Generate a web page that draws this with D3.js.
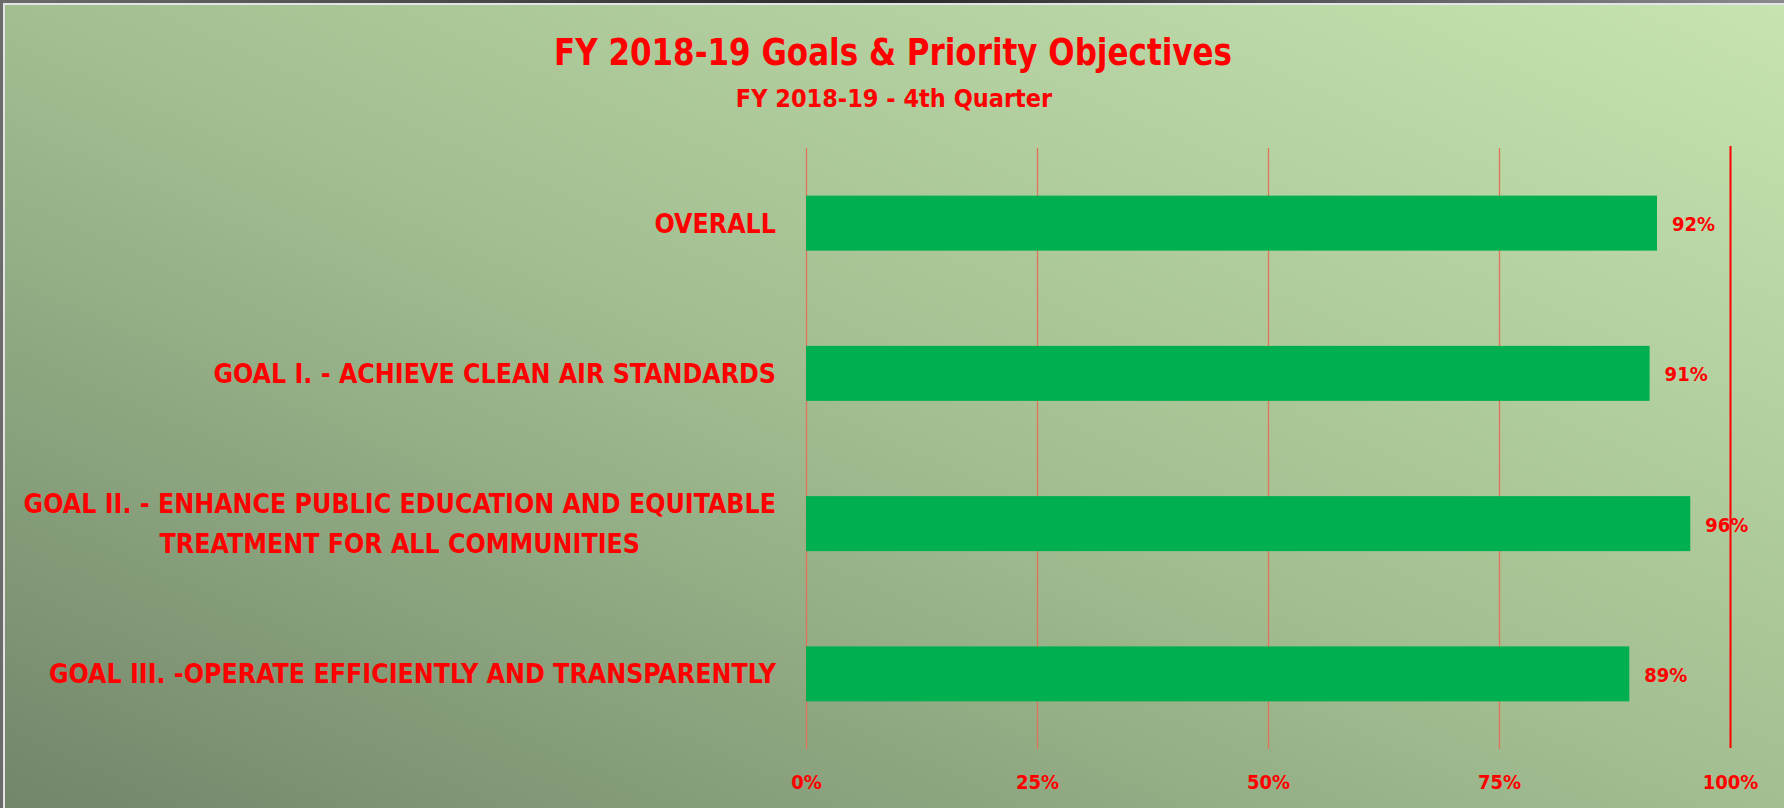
<!DOCTYPE html>
<html>
<head>
<meta charset="utf-8">
<script src="https://cdn.jsdelivr.net/npm/d3@7"></script>
<style>
  body { margin: 0; background: #555; }
  svg { display: block; }
  text { font-family: "Liberation Sans Narrow", "Arial Narrow", "DejaVu Sans Condensed", sans-serif; font-weight: bold; fill: #ff0000; }
</style>
</head>
<body>
<svg></svg>
<script>
// data
const categories = ["OVERALL", "GOAL I", "GOAL II", "GOAL III"];
const labelLines = [
    ["OVERALL"],
    ["GOAL I. - ACHIEVE CLEAN AIR STANDARDS"],
    ["GOAL II. - ENHANCE PUBLIC EDUCATION AND EQUITABLE", "TREATMENT FOR ALL COMMUNITIES"],
    ["GOAL III. -OPERATE EFFICIENTLY AND TRANSPARENTLY"]
];
const values = [0.921, 0.913, 0.957, 0.891];
const tickValues = [0, 0.25, 0.5, 0.75, 1];
const title = "FY 2018-19 Goals & Priority Objectives";
const subtitle = "FY 2018-19 - 4th Quarter";

const width = 1784, height = 808;
const margin = { top: 148, right: 54, bottom: 59, left: 806 };

const svg = d3.select("svg").attr("width", width).attr("height", height);

// bakgrund med gradient
const defs = svg.append("defs");
const grad = defs.append("linearGradient").attr("id", "bg")
    .attr("x1", 0).attr("y1", 1).attr("x2", 1).attr("y2", 0);
grad.append("stop").attr("offset", "0%").attr("stop-color", "#72866a");
grad.append("stop").attr("offset", "50%").attr("stop-color", "#a3bf91");
grad.append("stop").attr("offset", "100%").attr("stop-color", "#c6e3b1");

const frame = defs.append("linearGradient").attr("id", "frame")
    .attr("x1", 0).attr("y1", 0).attr("x2", 1).attr("y2", 0);
frame.append("stop").attr("offset", "0%").attr("stop-color", "#6b6b6b");
frame.append("stop").attr("offset", "50%").attr("stop-color", "#2b2b2b");
frame.append("stop").attr("offset", "100%").attr("stop-color", "#8a8a8a");

svg.append("rect").attr("width", width).attr("height", height).attr("fill", "url(#frame)");
svg.append("rect").attr("x", 3).attr("y", 3).attr("width", width - 3).attr("height", height - 3).attr("fill", "#e4e4e4");
svg.append("rect").attr("x", 5).attr("y", 5).attr("width", width - 5).attr("height", height - 5).attr("fill", "url(#bg)");

// skalor
const x = d3.scaleLinear().domain([0, 1]).range([margin.left, width - margin.right]);
const y = d3.scaleBand().domain(categories)
    .range([margin.top, height - margin.bottom])
    .paddingInner(0.634).paddingOuter(0.317);

// rutnät
svg.append("g").selectAll("line")
    .data(tickValues)
    .join("line")
    .attr("x1", d => Math.round(x(d)) + 0.5)
    .attr("x2", d => Math.round(x(d)) + 0.5)
    .attr("y1", d => d === 1 ? margin.top - 2 : margin.top)
    .attr("y2", d => d === 1 ? height - margin.bottom - 1 : height - margin.bottom)
    .attr("stroke", d => d === 1 ? "#ff0000" : "#e0735a")
    .attr("stroke-width", d => d === 1 ? 2 : 1.3);

// x-axel etiketter
const xAxis = svg.append("g")
    .attr("transform", `translate(0,${height - margin.bottom + 40})`)
    .call(d3.axisBottom(x).tickValues(tickValues).tickFormat(d3.format(".0%")).tickSize(0).tickPadding(0));
xAxis.select(".domain").remove();
xAxis.attr("font-family", null).attr("font-size", null);
xAxis.selectAll("text")
    .attr("font-size", 20)
    .attr("dy", 0);

// staplar
svg.append("g").selectAll("rect")
    .data(values)
    .join("rect")
    .attr("x", x(0))
    .attr("y", (d, i) => y(categories[i]))
    .attr("width", d => x(d) - x(0))
    .attr("height", y.bandwidth())
    .attr("fill", "#00b050");

// värdeetiketter
svg.append("g").selectAll("text")
    .data(values)
    .join("text")
    .attr("x", d => x(d) + 15)
    .attr("y", (d, i) => y(categories[i]) + y.bandwidth() / 2 + 8)
    .attr("font-size", 20)
    .text(d => d3.format(".0%")(d));

// kategorietiketter
const labelRight = margin.left - 30;
const lineGap = 40;
categories.forEach((c, i) => {
    const lines = labelLines[i];
    const g = svg.append("g");
    const texts = g.selectAll("text")
        .data(lines)
        .join("text")
        .attr("font-size", 26.5)
        .attr("text-anchor", "middle")
        .text(d => d);
    let maxW = 0;
    texts.each(function () { maxW = Math.max(maxW, this.getComputedTextLength()); });
    const cy = y(c) + y.bandwidth() / 2;
    const firstBaseline = cy + 9.5 - (lines.length - 1) * lineGap / 2;
    texts.attr("x", labelRight - maxW / 2)
        .attr("y", (d, j) => firstBaseline + j * lineGap);
});

// titlar
svg.append("text")
    .attr("x", 893).attr("y", 65)
    .attr("text-anchor", "middle")
    .attr("font-size", 38)
    .attr("textLength", 678)
    .attr("lengthAdjust", "spacingAndGlyphs")
    .text(title);
svg.append("text")
    .attr("x", 894).attr("y", 107)
    .attr("text-anchor", "middle")
    .attr("font-size", 25)
    .text(subtitle);
</script>
</body>
</html>
